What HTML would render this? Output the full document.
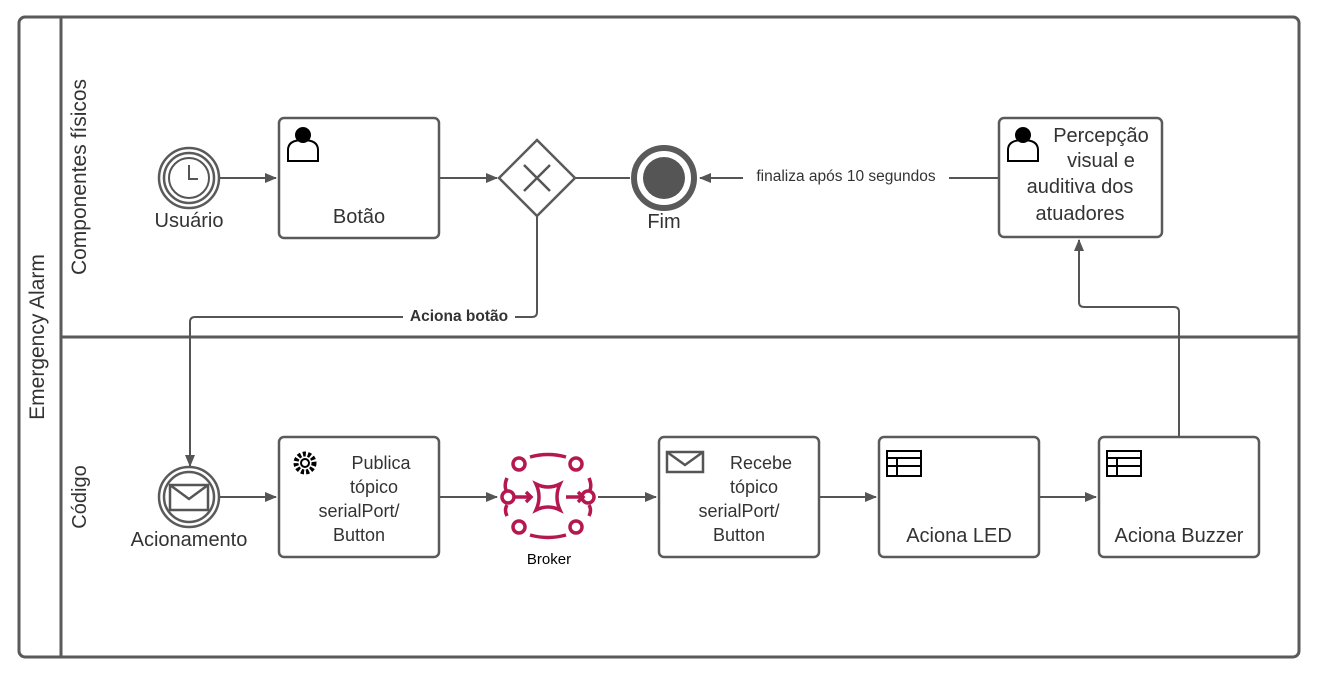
<!DOCTYPE html>
<html><head><meta charset="utf-8"><style>body{margin:0;background:#fff}svg{display:block}text{font-family:"Liberation Sans",sans-serif;fill:#333}</style></head><body>
<svg width="1318" height="680" viewBox="0 0 1318 680" xmlns="http://www.w3.org/2000/svg">
<defs><marker id="a" markerWidth="12" markerHeight="10" refX="11" refY="5" orient="auto" markerUnits="userSpaceOnUse"><path d="M0,0 L12,5 L0,10 z" fill="#555"/></marker></defs>
<g fill="none" stroke="#5a5a5a" stroke-width="3">
<rect x="19" y="17" width="1280" height="640" rx="6"/>
<line x1="61" y1="17" x2="61" y2="657"/>
<line x1="61" y1="337" x2="1299" y2="337"/>
</g>
<text transform="translate(44,337) rotate(-90)" text-anchor="middle" font-size="21">Emergency Alarm</text>
<text transform="translate(86,177) rotate(-90)" text-anchor="middle" font-size="21">Componentes físicos</text>
<text transform="translate(86,497) rotate(-90)" text-anchor="middle" font-size="20">Código</text>
<g stroke="#555" stroke-width="2" fill="none">
<line x1="220" y1="178" x2="276" y2="178" marker-end="url(#a)"/>
<line x1="440" y1="178" x2="497" y2="178" marker-end="url(#a)"/>
<line x1="575" y1="178" x2="630" y2="178"/>
<line x1="998" y1="178" x2="700" y2="178" marker-end="url(#a)"/>
<path d="M537,216 V312 Q537,317 532,317 H195 Q190,317 190,322 V466" marker-end="url(#a)"/>
<line x1="220" y1="497" x2="276" y2="497" marker-end="url(#a)"/>
<line x1="440" y1="497" x2="497" y2="497" marker-end="url(#a)"/>
<line x1="598" y1="497" x2="656" y2="497" marker-end="url(#a)"/>
<line x1="819" y1="497" x2="876" y2="497" marker-end="url(#a)"/>
<line x1="1040" y1="497" x2="1096" y2="497" marker-end="url(#a)"/>
<path d="M1179,437 V312 Q1179,307 1174,307 H1084 Q1079,307 1079,302 V240" marker-end="url(#a)"/>
</g>
<rect x="743" y="165" width="206" height="22" fill="#fff"/>
<text x="846" y="181" text-anchor="middle" font-size="15.5">finaliza após 10 segundos</text>
<rect x="403" y="306" width="112" height="20" fill="#fff"/>
<text x="459" y="321" text-anchor="middle" font-size="15.5" font-weight="bold">Aciona botão</text>
<g stroke="#5a5a5a" fill="#fff" stroke-width="2.5">
<circle cx="189" cy="178" r="30"/><circle cx="189" cy="178" r="25"/>
<rect x="279" y="118" width="160" height="120" rx="5"/>
<path d="M537,140 L575,178 L537,216 L499,178 z"/>
<circle cx="664" cy="178" r="30" stroke-width="6"/>
<rect x="999" y="118" width="163" height="119" rx="5"/>
<circle cx="189" cy="497" r="30"/><circle cx="189" cy="497" r="25"/>
<rect x="279" y="437" width="160" height="120" rx="5"/>
<rect x="659" y="437" width="160" height="120" rx="5"/>
<rect x="879" y="437" width="160" height="120" rx="5"/>
<rect x="1099" y="437" width="160" height="120" rx="5"/>
</g>
<circle cx="664" cy="178" r="21" fill="#555"/>
<circle cx="189" cy="178" r="20" fill="none" stroke="#555" stroke-width="2"/>
<path d="M189,165 V179 H198" fill="none" stroke="#555" stroke-width="2"/>
<path d="M524,165 L550,191 M550,165 L524,191" stroke="#555" stroke-width="2.5"/>
<rect x="170" y="485" width="38" height="25" fill="none" stroke="#555" stroke-width="2.5"/>
<path d="M170,485 L189,499 L208,485" fill="none" stroke="#555" stroke-width="2.5"/>
<rect x="667" y="452" width="36" height="20" fill="none" stroke="#555" stroke-width="2.5"/>
<path d="M667,452 L685,465 L703,452" fill="none" stroke="#555" stroke-width="2.5"/>
<g fill="#fff" stroke="#000" stroke-width="2"><path d="M288,161 V150 Q288,140 303,140 Q318,140 318,150 V161 z"/><circle cx="303" cy="135" r="7" fill="#000"/>
<path d="M1008,161 V150 Q1008,140 1023,140 Q1038,140 1038,150 V161 z"/><circle cx="1023" cy="135" r="7" fill="#000"/></g>
<g fill="none" stroke="#000" stroke-width="2"><rect x="887" y="451" width="34" height="25"/><path d="M887,458 H921 M887,466 H921 M897,458 V476"/>
<rect x="1107" y="451" width="34" height="25"/><path d="M1107,458 H1141 M1107,466 H1141 M1117,458 V476"/>
<circle cx="305" cy="463" r="9" stroke-dasharray="3 2" stroke-width="5"/><circle cx="305" cy="463" r="4"/></g>
<g fill="none" stroke="#b5174f" stroke-width="3.5">
<circle cx="519" cy="464" r="6"/><circle cx="576" cy="464" r="6"/><circle cx="519" cy="527" r="6"/><circle cx="576" cy="527" r="6"/>
<circle cx="508" cy="497" r="6"/><circle cx="588" cy="497" r="6"/>
<path d="M530,457 Q548,452 566,457 M530,535 Q548,540 566,535 M507,478 Q504,485 506,490 M589,478 Q592,485 590,490 M507,505 Q504,510 507,516 M589,505 Q592,510 589,516"/>
<path d="M536,484 Q548,490 560,484 Q554,497 560,510 Q548,504 536,510 Q542,497 536,484 z"/>
<path d="M514,497 H530 M526,492 L531,497 L526,502 M566,497 H582 M578,492 L583,497 L578,502"/></g>
<g font-size="20" text-anchor="middle">
<text x="189" y="227">Usuário</text><text x="359" y="223">Botão</text><text x="664" y="228">Fim</text>
<text x="1101" y="142">Percepção</text><text x="1101" y="167">visual e</text><text x="1080" y="193">auditiva dos</text><text x="1080" y="220">atuadores</text>
<text x="189" y="546">Acionamento</text>
<text x="381" y="469" font-size="18">Publica</text><text x="374" y="493" font-size="18">tópico</text><text x="359" y="517" font-size="18">serialPort/</text><text x="359" y="541" font-size="18">Button</text>
<text x="761" y="469" font-size="18">Recebe</text><text x="754" y="493" font-size="18">tópico</text><text x="739" y="517" font-size="18">serialPort/</text><text x="739" y="541" font-size="18">Button</text>
<text x="959" y="542">Aciona LED</text><text x="1179" y="542">Aciona Buzzer</text>
<text x="549" y="564" font-size="15" style="fill:#000">Broker</text>
</g>
</svg>
</body></html>
